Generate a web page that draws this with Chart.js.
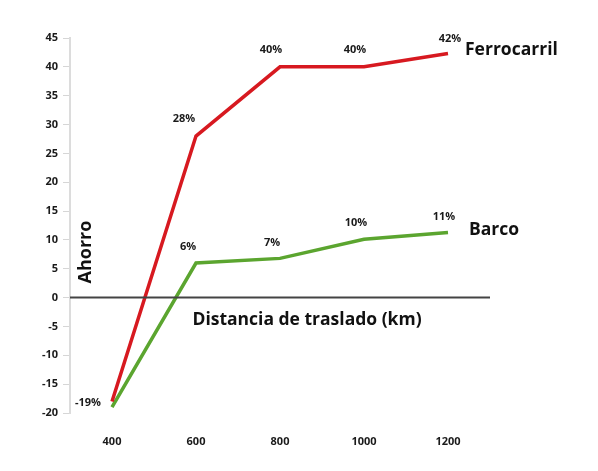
<!DOCTYPE html>
<html lang="es">
<head>
<meta charset="UTF-8">
<title>Ahorro por distancia de traslado</title>
<script src="https://cdn.jsdelivr.net/npm/chart.js"></script>
<style>
  html, body { margin: 0; padding: 0; background: #fff; }
  #wrap { width: 598px; height: 471px; }
</style>
</head>
<body>
<div id="wrap"><canvas id="ahorroChart"></canvas></div>
<script>
// data
const distances = [400, 600, 800, 1000, 1200];
const ferrocarril = [-18, 28, 40, 40, 42.3];
const barco = [-19, 6, 6.8, 10.1, 11.3];
const ferroLabels = ["", "28%", "40%", "40%", "42%"];
const barcoLabels = ["-19%", "6%", "7%", "10%", "11%"];
const yTicks = [-20, -15, -10, -5, 0, 5, 10, 15, 20, 25, 30, 35, 40, 45];

const FONT = "'Open Sans', sans-serif";

// zero line, point labels and titles
const textPlugin = {
    id: "textPlugin",
    afterDatasetsDraw(chart) {
        const ctx = chart.ctx;
        const xs = chart.scales.x, ys = chart.scales.y;
        const area = chart.chartArea;
        const y0 = ys.getPixelForValue(0);

        ctx.save();
        ctx.strokeStyle = "#444";
        ctx.lineWidth = 2;
        ctx.beginPath();
        ctx.moveTo(area.left, y0);
        ctx.lineTo(area.right, y0);
        ctx.stroke();

        ctx.fillStyle = "#1a1a1a";
        ctx.font = "bold 11px " + FONT;
        ctx.textAlign = "center";
        ctx.textBaseline = "middle";
        ferroLabels.forEach(function (t, i) {
            if (!t) return;
            const px = xs.getPixelForValue(distances[i]);
            const py = ys.getPixelForValue(ferrocarril[i]);
            ctx.fillText(t, px - (i === 1 ? 12 : (i === 4 ? -2 : 9)), py - (i === 4 ? 15 : 17));
        });
        barcoLabels.forEach(function (t, i) {
            const px = xs.getPixelForValue(distances[i]);
            const py = ys.getPixelForValue(barco[i]);
            if (i === 0) {
                ctx.fillText(t, px - 24, py - 4);
            } else {
                ctx.fillText(t, px - (i === 4 ? 4 : 8), py - 16);
            }
        });

        ctx.fillStyle = "#111";
        ctx.font = "bold 17.5px " + FONT;
        ctx.textAlign = "left";
        const lastX = xs.getPixelForValue(distances[4]);
        ctx.fillText("Ferrocarril", lastX + 17, ys.getPixelForValue(ferrocarril[4]) - 4);
        ctx.fillText("Barco", lastX + 21, ys.getPixelForValue(barco[4]) - 2);

        ctx.textAlign = "center";
        ctx.fillText("Distancia de traslado (km)", 307, y0 + 22);

        ctx.font = "bold 18px " + FONT;
        ctx.translate(86, 252);
        ctx.rotate(-Math.PI / 2);
        ctx.fillText("Ahorro", 0, 0);
        ctx.restore();
    }
};

new Chart(document.getElementById("ahorroChart"), {
    type: "line",
    data: {
        datasets: [
            {
                label: "Ferrocarril",
                data: distances.map((d, i) => ({ x: d, y: ferrocarril[i] })),
                borderColor: "#d71920",
                borderWidth: 3.5,
                pointRadius: 0,
                tension: 0
            },
            {
                label: "Barco",
                data: distances.map((d, i) => ({ x: d, y: barco[i] })),
                borderColor: "#5ba52f",
                borderWidth: 3.5,
                pointRadius: 0,
                tension: 0
            }
        ]
    },
    options: {
        responsive: true,
        maintainAspectRatio: false,
        animation: false,
        layout: { padding: { top: 38, right: 108, left: 0, bottom: 0 } },
        plugins: {
            legend: { display: false },
            tooltip: { enabled: false }
        },
        scales: {
            x: {
                type: "linear",
                min: 300,
                max: 1300,
                afterBuildTicks: function (axis) {
                    axis.ticks = distances.map(v => ({ value: v }));
                },
                afterFit: function (axis) { axis.height = 58; },
                grid: { display: false, drawTicks: false },
                border: { display: false },
                ticks: {
                    padding: 22,
                    color: "#1a1a1a",
                    callback: v => String(v),
                    font: { family: FONT, size: 11, weight: "bold" }
                }
            },
            y: {
                min: -20,
                max: 45,
                afterBuildTicks: function (axis) {
                    axis.ticks = yTicks.map(v => ({ value: v }));
                },
                afterFit: function (axis) { axis.width = 70; },
                grid: { drawOnChartArea: false, tickLength: 7, color: "#d6d6d6" },
                border: { color: "#dcdcdc", width: 2 },
                ticks: {
                    padding: 5,
                    color: "#1a1a1a",
                    font: { family: FONT, size: 11, weight: "bold" }
                }
            }
        }
    },
    plugins: [textPlugin]
});
</script>
</body>
</html>
